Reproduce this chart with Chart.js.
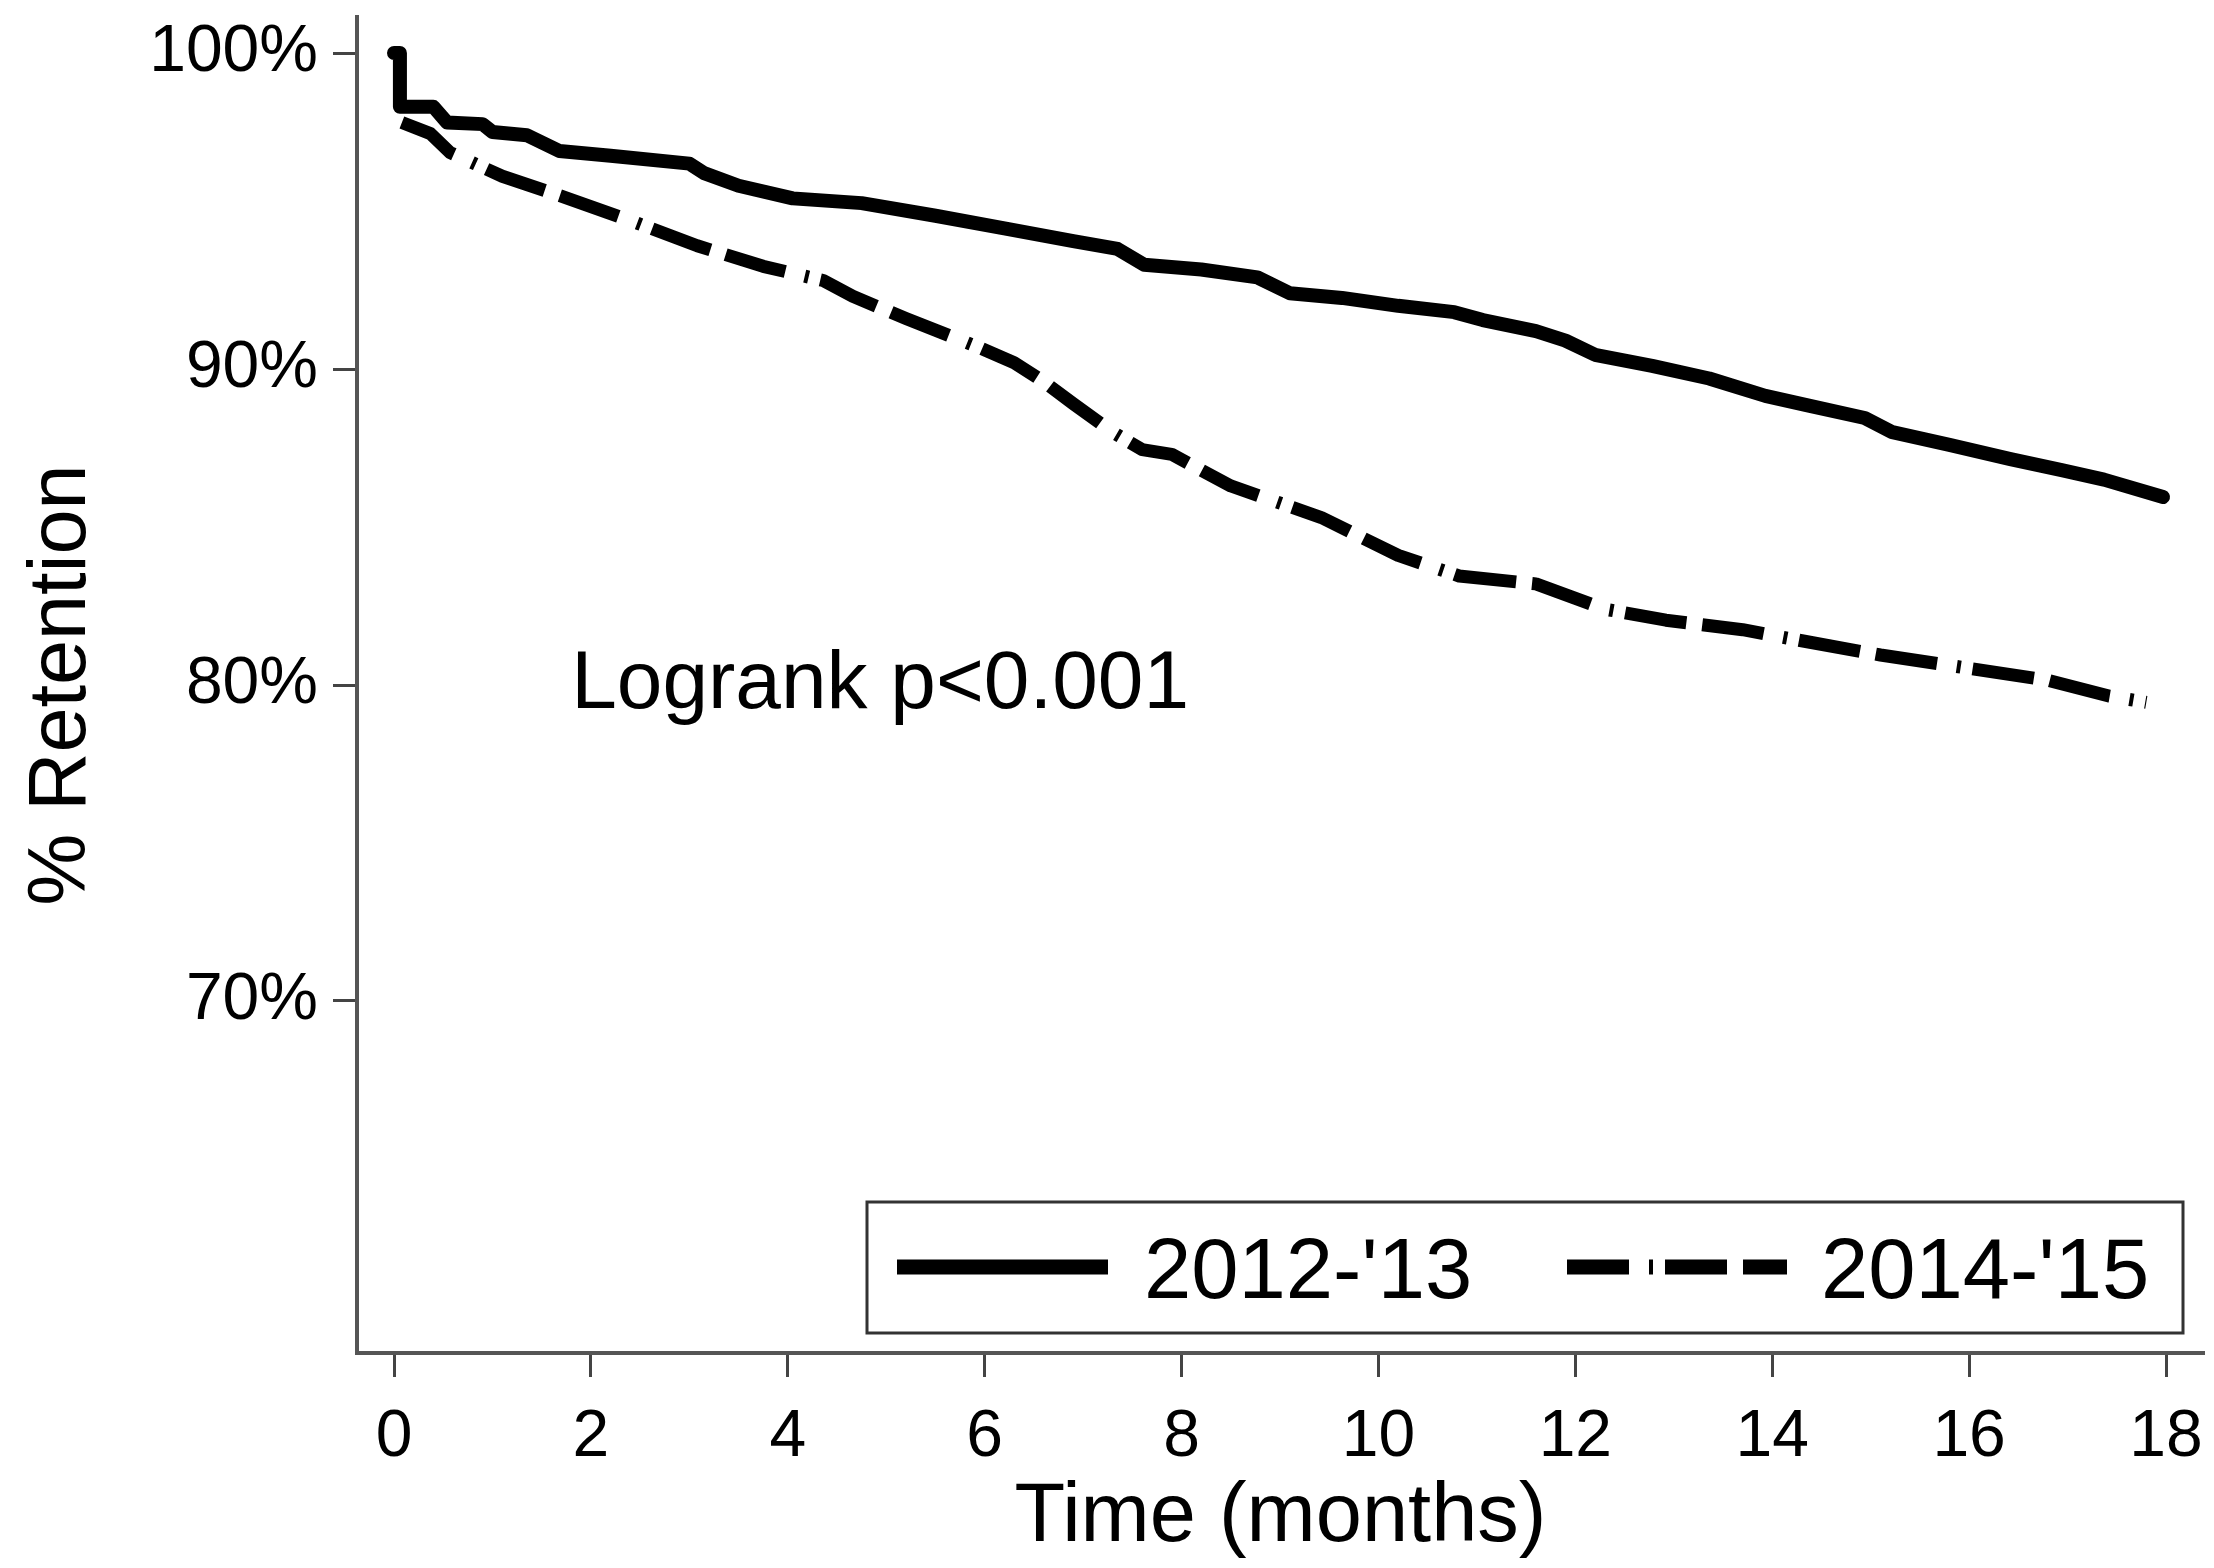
<!DOCTYPE html>
<html>
<head>
<meta charset="utf-8">
<script src="https://cdn.jsdelivr.net/npm/chart.js@4"></script>
<style>
  html, body { margin: 0; padding: 0; background: #fff; }
  canvas { display: block; }
</style>
</head>
<body>
<canvas id="c" width="2214" height="1568"></canvas>
<script>
// ---- data ----
const seriesNames = ["2012-'13", "2014-'15"];

const months2012 = [0, 0.06, 0.06, 0.4, 0.54, 0.9, 1.0, 1.35, 1.68, 2.2,
  3.0, 3.15, 3.5, 4.05, 4.75, 5.5, 6.2, 6.9, 7.35, 7.62,
  8.2, 8.77, 9.1, 9.63, 10.2, 10.77, 11.06, 11.6, 11.9, 12.2,
  12.78, 13.36, 13.93, 14.36, 14.94, 15.22, 15.8, 16.42, 16.94, 17.37,
  17.97];
const retention2012 = [100, 100, 98.3, 98.3, 97.8, 97.75, 97.5, 97.4, 96.9, 96.75,
  96.5, 96.2, 95.8, 95.4, 95.25, 94.85, 94.45, 94.05, 93.8, 93.3,
  93.15, 92.9, 92.4, 92.25, 92.0, 91.8, 91.55, 91.2, 90.9, 90.45,
  90.1, 89.7, 89.15, 88.85, 88.45, 88.0, 87.6, 87.15, 86.8, 86.5,
  85.95];

const months2014 = [0.08, 0.37, 0.57, 1.1, 1.72, 2.4, 3.08, 3.75, 4.36, 4.66,
  5.2, 5.93, 6.3, 6.6, 6.9, 7.3, 7.6, 7.9, 8.5, 9.42,
  10.2, 10.82, 11.6, 12.3, 12.92, 13.7, 14.3, 15.1, 15.95, 16.8,
  17.42, 17.8];
const retention2014 = [97.8, 97.45, 96.85, 96.1, 95.45, 94.7, 93.9, 93.25, 92.8, 92.3,
  91.6, 90.7, 90.2, 89.6, 88.9, 88.0, 87.45, 87.3, 86.3, 85.3,
  84.1, 83.45, 83.2, 82.4, 82.05, 81.75, 81.4, 80.95, 80.55, 80.15,
  79.65, 79.45];

const xTicks = [0, 2, 4, 6, 8, 10, 12, 14, 16, 18];
const yTicks = [70, 80, 90, 100];
const xTitle = 'Time (months)';
const yTitle = '% Retention';
const annotationText = 'Logrank p<0.001';
const annotationAt = { x: 1.8, y: 80 };

// ---- styling ----
const FONT = '"Liberation Sans", Arial, Helvetica, sans-serif';
const dashPattern = [62, 20, 4, 12, 62, 16];

const toPoints = (xs, ys) => xs.map((x, i) => ({ x: x, y: ys[i] }));

const annotationPlugin = {
  id: 'logrankText',
  afterDatasetsDraw(chart) {
    const { ctx, scales } = chart;
    ctx.save();
    ctx.font = '82px ' + FONT;
    ctx.fillStyle = '#000';
    ctx.textAlign = 'left';
    ctx.textBaseline = 'middle';
    ctx.fillText(annotationText, scales.x.getPixelForValue(annotationAt.x), scales.y.getPixelForValue(annotationAt.y));
    ctx.restore();
  }
};

const legendPlugin = {
  id: 'boxLegend',
  afterDraw(chart) {
    const { ctx, chartArea } = chart;
    const w = 1316, h = 131;
    const right = chartArea.right - 21;
    const bottom = chartArea.bottom - 20;
    const left = right - w, top = bottom - h;
    ctx.save();
    ctx.fillStyle = '#fff';
    ctx.fillRect(left, top, w, h);
    ctx.strokeStyle = '#333';
    ctx.lineWidth = 3;
    ctx.strokeRect(left, top, w, h);
    const items = [
      { x0: left + 30, x1: left + 241, tx: left + 277 },
      { x0: left + 700, x1: left + 920, tx: left + 954 }
    ];
    chart.data.datasets.forEach((ds, i) => {
      const it = items[i];
      const cy = top + 65;
      ctx.beginPath();
      ctx.strokeStyle = ds.borderColor;
      ctx.lineWidth = 15;
      ctx.lineCap = 'butt';
      ctx.setLineDash(ds.borderDash || []);
      ctx.moveTo(it.x0, cy);
      ctx.lineTo(it.x1, cy);
      ctx.stroke();
      ctx.setLineDash([]);
      ctx.font = '85px ' + FONT;
      ctx.fillStyle = '#000';
      ctx.textAlign = 'left';
      ctx.textBaseline = 'middle';
      ctx.fillText(ds.label, it.tx, top + 73);
    });
    ctx.restore();
  }
};

new Chart(document.getElementById('c'), {
  type: 'line',
  data: {
    datasets: [
      {
        label: seriesNames[0],
        data: toPoints(months2012, retention2012),
        borderColor: '#000',
        borderWidth: 14,
        pointRadius: 0,
        borderCapStyle: 'round',
        borderJoinStyle: 'round',
        tension: 0,
        fill: false
      },
      {
        label: seriesNames[1],
        data: toPoints(months2014, retention2014),
        borderColor: '#000',
        borderWidth: 13,
        borderDash: dashPattern,
        pointRadius: 0,
        borderCapStyle: 'butt',
        borderJoinStyle: 'round',
        tension: 0,
        fill: false
      }
    ]
  },
  options: {
    responsive: false,
    animation: false,
    devicePixelRatio: 1,
    layout: { padding: { top: 17, right: 10, left: 0, bottom: 0 } },
    plugins: { legend: { display: false }, tooltip: { enabled: false } },
    scales: {
      x: {
        type: 'linear',
        min: -0.376,
        max: 18.386,
        afterBuildTicks: (s) => { s.ticks = xTicks.map(v => ({ value: v })); },
        afterFit: (s) => { s.height = 215; s.paddingLeft = 0; s.paddingRight = 0; },
        ticks: { font: { family: FONT, size: 66 }, color: '#000', padding: 21, maxRotation: 0, autoSkip: false },
        grid: { display: true, drawOnChartArea: false, drawTicks: true, tickLength: 24, tickColor: '#444', tickWidth: 3 },
        border: { display: true, color: '#555', width: 4 },
        title: { display: true, text: xTitle, font: { family: FONT, size: 83 }, color: '#000', padding: { top: 0, bottom: 0 } }
      },
      y: {
        type: 'linear',
        min: 58.86,
        max: 101.14,
        afterBuildTicks: (s) => { s.ticks = yTicks.map(v => ({ value: v })); },
        afterFit: (s) => { s.width = 357; s.paddingTop = 0; s.paddingBottom = 0; },
        ticks: { font: { family: FONT, size: 66 }, color: '#000', padding: 15, autoSkip: false, callback: (v) => v + '%' },
        grid: { display: true, drawOnChartArea: false, drawTicks: true, tickLength: 24, tickColor: '#444', tickWidth: 3 },
        border: { display: true, color: '#555', width: 4 },
        title: { display: true, text: yTitle, font: { family: FONT, size: 81 }, color: '#000', padding: { top: 14, bottom: 0 } }
      }
    }
  },
  plugins: [annotationPlugin, legendPlugin]
});
</script>
</body>
</html>
